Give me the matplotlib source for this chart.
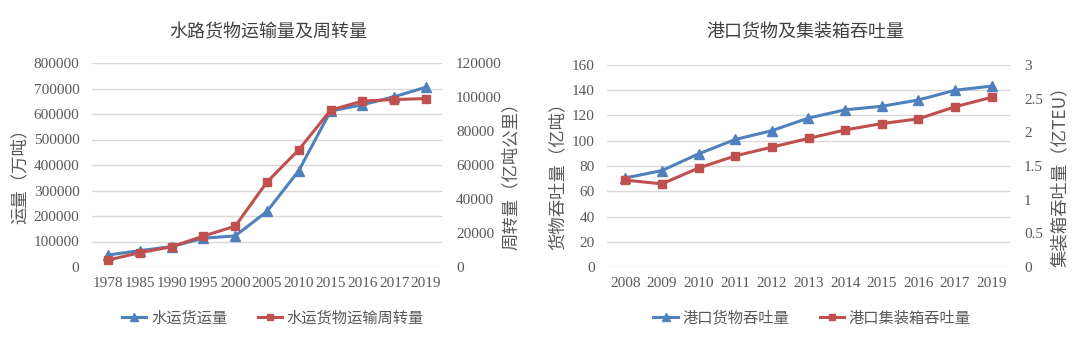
import matplotlib
matplotlib.use("Agg")
import matplotlib.pyplot as plt
from matplotlib.lines import Line2D

plt.rcParams['font.family'] = ['Noto Sans CJK SC', 'DejaVu Sans']

# ---- data: left chart ----
years_left = ["1978", "1985", "1990", "1995", "2000", "2005", "2010", "2015", "2016", "2017", "2019"]
freight_volume = [47000, 64000, 80000, 113000, 122000, 218000, 378000, 612000, 636000, 668000, 705000]
freight_turnover = [4100, 8400, 11900, 18200, 24000, 50000, 69000, 92300, 97600, 98500, 99100]
left_ticks = [0, 100000, 200000, 300000, 400000, 500000, 600000, 700000, 800000]
left_rticks = [0, 20000, 40000, 60000, 80000, 100000, 120000]

# ---- data: right chart ----
years_right = ["2008", "2009", "2010", "2011", "2012", "2013", "2014", "2015", "2016", "2017", "2019"]
port_cargo = [70.5, 76.4, 89.6, 101, 108, 118, 124.5, 127.3, 132.3, 140, 143.3]
port_teu = [1.29, 1.235, 1.47, 1.65, 1.78, 1.91, 2.035, 2.13, 2.2, 2.38, 2.52]
right_ticks = [0, 20, 40, 60, 80, 100, 120, 140, 160]
right_rticks = [0, 0.5, 1, 1.5, 2, 2.5, 3]
right_rlabels = ["0", "0.5", "1", "1.5", "2", "2.5", "3"]

BLUE = "#4F81BD"
RED = "#C0504D"
GRID = "#D9D9D9"
TXT = "#595959"
SERIF = ["Liberation Serif", "DejaVu Serif"]

fig = plt.figure(figsize=(10.8, 3.4), dpi=100)
W, H = 1080, 340

def ax_rect(x0, x1, ytop, ybot):
    return [x0 / W, 1 - ybot / H, (x1 - x0) / W, (ybot - ytop) / H]

def style(ax):
    for s in ax.spines.values():
        s.set_visible(False)
    ax.tick_params(length=0, colors=TXT)

def draw(rect, cats, s1, s2, t1, t2, t2labels, ylab1, ylab2, title,
         leg, lab1x, leg_x, title_x, rlab_x, xtick_size):
    ax = fig.add_axes(ax_rect(*rect))
    x = list(range(len(cats)))
    ax.set_ylim(t1[0], t1[-1])
    ax.set_yticks(t1)
    ax.set_yticklabels([str(v) for v in t1], family=SERIF, fontsize=11, color=TXT)
    ax.yaxis.grid(True, color=GRID, lw=1)
    ax.set_axisbelow(True)
    ax.set_xlim(-0.5, len(cats) - 0.5)
    ax.set_xticks(x)
    ax.set_xticklabels(cats, family=SERIF, fontsize=xtick_size, color=TXT)
    ax.tick_params(axis='x', pad=7)
    ax.tick_params(axis='y', pad=9)
    style(ax)
    ax2 = ax.twinx()
    ax2.set_ylim(t2[0], t2[-1])
    ax2.set_yticks(t2)
    ax2.set_yticklabels(t2labels, family=SERIF, fontsize=11, color=TXT)
    ax2.tick_params(axis='y', pad=10)
    style(ax2)
    ax.plot(x, s1, color=BLUE, lw=2.2, marker='^', ms=7, zorder=3)
    ax2.plot(x, s2, color=RED, lw=2.2, marker='s', ms=6, zorder=3)
    cy = 1 - 172 / H
    fig.text(lab1x / W, cy, ylab1, rotation=90, ha='center', va='center',
             fontsize=12.5, color=TXT)
    fig.text(rlab_x / W, cy, ylab2, rotation=90, ha='center', va='center',
             fontsize=12.5, color=TXT)
    fig.text(title_x / W, 1 - 32 / H, title, ha='center', va='center',
             fontsize=13, color="#404040")
    handles = [Line2D([], [], color=BLUE, lw=2.2, marker='^', ms=6),
               Line2D([], [], color=RED, lw=2.2, marker='s', ms=5)]
    fig.legend(handles, leg, loc='center', bbox_to_anchor=(leg_x / W, 1 - 318 / H),
               ncol=2, frameon=False, fontsize=11, handlelength=1.6,
               handletextpad=0.3, columnspacing=2.0, labelcolor=TXT)
    return ax, ax2

draw((92, 442, 63, 267), years_left, freight_volume, freight_turnover,
     left_ticks, left_rticks, [str(v) for v in left_rticks],
     "运量（万吨）", "周转量（亿吨公里）", "水路货物运输量及周转量",
     ["水运货运量", "水运货物运输周转量"], 20, 273, 268, 511, 11)

draw((607, 1010, 65, 267), years_right, port_cargo, port_teu,
     right_ticks, right_rticks, right_rlabels,
     "货物吞吐量（亿吨）", "集装箱吞吐量（亿TEU）", "港口货物及集装箱吞吐量",
     ["港口货物吞吐量", "港口集装箱吞吐量"], 558, 812, 805, 1060, 11)

fig.savefig("out.png", dpi=100, facecolor="white")
